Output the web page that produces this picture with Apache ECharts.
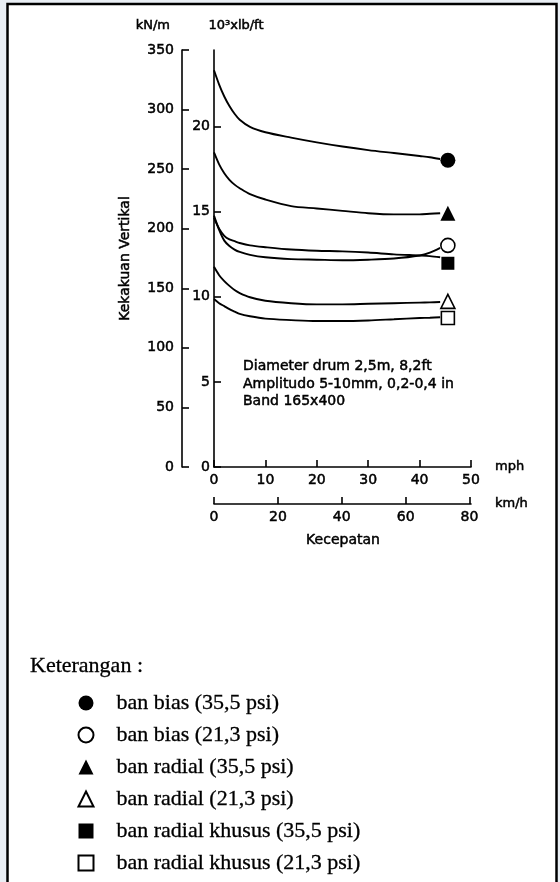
<!DOCTYPE html>
<html>
<head>
<meta charset="utf-8">
<script src="https://cdn.jsdelivr.net/npm/echarts@6/dist/echarts.min.js"></script>
<style>
html, body { margin: 0; padding: 0; background: #fff; }
#chart { width: 560px; height: 882px; }
</style>
</head>
<body>
<div id="chart"></div>
<script>
// speed in mph where the curves were read
var speedMph = [0, 1, 2, 3, 4, 5, 7, 10, 15, 20, 25, 30, 35, 40, 42, 44];

// vertical stiffness, kN/m
var biasHigh    = [333, 321, 311, 303, 296.5, 291.5, 285.5, 281, 276.5, 272.5, 269, 266, 263.5, 261, 260, 258.5];
var biasLow     = [211, 199, 190, 185.5, 182.5, 180.5, 178, 176, 174.5, 174, 173.5, 174, 175, 177.5, 180, 184];
var radialHigh  = [264, 254, 246.5, 241, 237, 234, 229, 224.5, 219, 217, 215, 213, 212, 212, 212.5, 213];
var radialLow   = [168, 161, 156, 152, 148.5, 146, 142.5, 139.5, 137.5, 136.5, 136.5, 137, 137.5, 138, 138.2, 138.5];
var khususHigh  = [209, 200, 194, 191, 189.5, 188, 186, 184.5, 182.5, 181.5, 181, 180, 178.5, 177.5, 177, 176];
var khususLow   = [141, 137.5, 135, 132.5, 130.5, 128.5, 126.5, 124.5, 123.3, 122.5, 122.5, 123, 124, 125, 125.3, 125.7];

// end markers
var markerMph = 45.5;
var markerValues = [257.5, 186, 213, 139, 171, 125];

var seriesNames = [
  'ban bias (35,5 psi)',
  'ban bias (21,3 psi)',
  'ban radial (35,5 psi)',
  'ban radial (21,3 psi)',
  'ban radial khusus (35,5 psi)',
  'ban radial khusus (21,3 psi)'
];
var curves = [biasHigh, biasLow, radialHigh, radialLow, khususHigh, khususLow];
var symbols = ['circle', 'circle', 'triangle', 'triangle', 'rect', 'rect'];
var filled = [true, false, true, false, true, false];
var symbolSizes = [15, 14, 15, 14, 13, 13];

var kmhTicks = [0, 20, 40, 60, 80];
var lbTicks = [0, 5, 10, 15, 20];

var notes = ['Diameter drum 2,5m, 8,2ft', 'Amplitudo 5-10mm, 0,2-0,4 in', 'Band 165x400'];

var FONT = 'DejaVu Sans';
var SERIF = 'Liberation Serif';
var ink = '#000';

// scanned text looks heavy: thicken glyphs a bit with a same-colour outline
var heavy = {textBorderColor: ink, textBorderWidth: 0.5};

var lineSeries = curves.map(function (vals) {
  return {
    type: 'line',
    xAxisIndex: 0,
    yAxisIndex: 0,
    data: vals.map(function (v, i) { return [speedMph[i], v]; }),
    smooth: 0.3,
    symbol: 'none',
    silent: true,
    lineStyle: {color: ink, width: 1.9},
    z: 3
  };
});

var markerSeries = seriesNames.map(function (name, i) {
  return {
    name: name,
    type: 'scatter',
    xAxisIndex: 0,
    yAxisIndex: 0,
    data: [[markerMph, markerValues[i]]],
    symbol: symbols[i],
    symbolSize: symbolSizes[i],
    itemStyle: filled[i] ?
      {color: ink, opacity: 1} :
      {color: '#fff', borderColor: ink, borderWidth: 1.6, opacity: 1},
    z: 4
  };
});

var axisLine = {show: true, onZero: false, lineStyle: {color: ink, width: 1.6}};
var tickIn = {show: true, inside: true, length: 7, lineStyle: {color: ink, width: 1.6}};
var labelStyle = Object.assign({color: ink, fontFamily: FONT, fontSize: 14}, heavy);
var nameStyle = Object.assign({color: ink, fontFamily: FONT, fontSize: 13}, heavy);

var chart = echarts.init(document.getElementById('chart'));
chart.setOption({
  animation: false,
  backgroundColor: '#fff',
  grid: {left: 214, top: 50, right: 89, bottom: 415},
  xAxis: [
    {
      type: 'value', min: 0, max: 50, interval: 10,
      position: 'bottom',
      axisLine: axisLine, axisTick: tickIn,
      axisLabel: Object.assign({margin: 6}, labelStyle),
      splitLine: {show: false},
      name: 'mph', nameLocation: 'end', nameGap: 24,
      nameTextStyle: nameStyle
    },
    {
      type: 'value', min: 0, max: 80.4672,
      position: 'bottom', offset: 37,
      axisLine: axisLine,
      axisTick: Object.assign({customValues: kmhTicks}, tickIn),
      axisLabel: Object.assign({margin: 6, customValues: kmhTicks}, labelStyle),
      splitLine: {show: false},
      name: 'km/h', nameLocation: 'end', nameGap: 24,
      nameTextStyle: nameStyle
    }
  ],
  yAxis: [
    {
      type: 'value', min: 0, max: 350, interval: 50,
      position: 'left', offset: 32,
      axisLine: axisLine, axisTick: tickIn,
      axisLabel: Object.assign({margin: 8}, labelStyle),
      splitLine: {show: false},
      name: 'kN/m', nameLocation: 'end', nameGap: 18,
      nameTextStyle: Object.assign({align: 'right', padding: [0, 12, 0, 0]}, nameStyle)
    },
    {
      type: 'value', min: 0, max: 24.5,
      position: 'left', offset: 0,
      axisLine: axisLine,
      axisTick: Object.assign({customValues: lbTicks}, tickIn),
      axisLabel: Object.assign({margin: 4, customValues: lbTicks}, labelStyle),
      splitLine: {show: false},
      name: '10³xlb/ft', nameLocation: 'end', nameGap: 18,
      nameTextStyle: Object.assign({align: 'center', padding: [0, 0, 0, 44]}, nameStyle)
    },
    {
      type: 'value', min: 0, max: 350,
      position: 'left', offset: 32,
      axisLine: {show: false, onZero: false}, axisTick: {show: false}, axisLabel: {show: false},
      splitLine: {show: false},
      name: 'Kekakuan Vertikal', nameLocation: 'middle', nameGap: 50,
      nameTextStyle: Object.assign({}, nameStyle, {fontSize: 14})
    }
  ],
  legend: {
    orient: 'vertical',
    left: 77.5, top: 687,
    padding: 0,
    itemWidth: 15, itemHeight: 15, itemGap: 0,
    selectedMode: false,
    data: seriesNames,
    textStyle: {
      color: ink, fontFamily: SERIF, fontSize: 22, lineHeight: 32, padding: [0, 0, 0, 18],
      textBorderColor: ink, textBorderWidth: 0.3
    }
  },
  graphic: [
    // scan frame
    {type: 'rect', shape: {x: 0, y: 0, width: 7, height: 882}, style: {fill: '#e9eef4'}, silent: true},
    {type: 'rect', shape: {x: 0, y: 0, width: 560, height: 3}, style: {fill: '#e9eef4'}, silent: true},
    {type: 'rect', shape: {x: 557, y: 0, width: 3, height: 882}, style: {fill: '#e9eef4'}, silent: true},
    {type: 'rect', shape: {x: 7.5, y: 4, width: 549, height: 900}, style: {fill: 'none', stroke: '#000', lineWidth: 2.5}, silent: true},
    {
      type: 'text', x: 243, y: 358,
      style: Object.assign({text: notes.join('\n'), font: '14px ' + FONT, fill: ink, lineHeight: 17.5},
        {stroke: ink, lineWidth: 0.5})
    },
    {
      type: 'text', x: 343, y: 540,
      style: {text: 'Kecepatan', font: '14px ' + FONT, fill: ink, stroke: ink, lineWidth: 0.5,
        align: 'center', verticalAlign: 'middle'}
    },
    {
      type: 'text', x: 30, y: 666,
      style: {text: 'Keterangan :', font: '22px ' + SERIF, fill: ink, stroke: ink, lineWidth: 0.3,
        verticalAlign: 'middle'}
    }
  ],
  series: lineSeries.concat(markerSeries)
});
</script>
</body>
</html>
